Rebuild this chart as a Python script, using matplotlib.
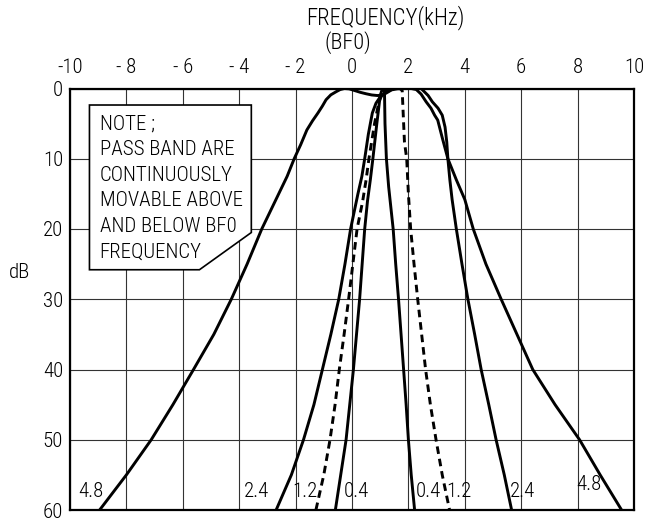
import matplotlib
matplotlib.use("Agg")
import matplotlib.pyplot as plt
from matplotlib.patches import Polygon

# ---------------- data (kHz, dB attenuation) ----------------
bw48_f = [-8.95, -8.0, -7.12, -6.35, -5.62, -4.9, -4.28, -3.72, -3.20, -2.6, -2.3, -2.05, -1.82,
          -1.60, -1.40, -1.21, -1.05, -0.92, -0.75, -0.56, -0.42, -0.27, -0.1, 0.1, 0.3, 0.5,
          0.7, 0.9, 1.05, 1.15, 1.3, 1.4, 1.6, 1.8, 2.1, 2.28, 2.45, 2.63, 2.8, 2.93, 3.04,
          3.2, 3.4, 3.7, 4.0, 4.3, 4.75, 5.29, 5.85, 6.41, 7.2, 8.07, 8.8, 9.56]
bw48_db = [60, 55, 50, 45, 40, 35, 30, 25, 20, 15, 12.5, 10, 8,
           5.9, 4.6, 3.5, 2.5, 1.6, 0.9, 0.45, 0.15, 0, 0.05, 0.3, 0.55, 0.75,
           0.92, 1.0, 0.95, 0.8, 0.45, 0.2, 0.05, 0, 0, 0.15, 0.8, 1.9, 2.8, 3.8, 4.5,
           7.0, 10, 13, 15.8, 20, 25, 30, 35, 40, 45, 50, 55, 60]

bw24_f = [-2.69, -2.15, -1.72, -1.35, -1.05, -0.75, -0.47, -0.25, -0.05, 0.21, 0.35, 0.45, 0.58,
          0.72, 0.85, 1.0, 1.2, 1.5, 2.45, 2.7, 2.85, 3.05, 3.2, 3.3, 3.36, 3.4, 3.47, 3.55,
          3.7, 3.9, 4.11, 4.35, 4.58, 4.85, 5.11, 5.4, 5.66]
bw24_db = [60, 55, 50, 45, 40, 35, 30, 25, 20, 15, 12.5, 10, 6.5,
           3.5, 2.1, 1.2, 0.5, 0, 0, 1.0, 1.9, 2.8, 3.8, 5.5, 7.6, 10, 13, 15.8,
           20, 25, 30, 35, 40, 45, 50, 55, 60]

bw12_f = [-1.28, -1.0, -0.78, -0.6, -0.45, -0.28, -0.12, 0.03, 0.18, 0.38, 0.5, 0.6, 0.7, 0.8,
          0.95, 1.1, 1.3, 1.7, 1.78, 1.82, 1.86, 1.94, 2.0, 2.08, 2.2, 2.33, 2.47, 2.61, 2.78,
          2.98, 3.2, 3.46]
bw12_db = [60, 55, 50, 45, 40, 35, 30, 25, 20, 16, 13, 10, 7.5, 5,
           2, 0.5, 0, 0, 0.3, 4, 7.6, 10, 15, 20, 25, 30, 35, 40, 45,
           50, 55, 60]

bw04_f = [-0.59, -0.4, -0.21, -0.08, 0.05, 0.16, 0.27, 0.36, 0.45, 0.55, 0.65, 0.74, 0.88, 1.0,
          1.08, 1.15, 1.17, 1.22, 1.3, 1.38, 1.46, 1.55, 1.65, 1.74, 1.83, 1.92, 2.0, 2.1, 2.22]
bw04_db = [60, 55, 50, 45, 40, 35, 30, 25, 20, 16, 13, 10, 5, 1,
           0, 0, 5, 10, 14, 17, 20, 25, 30, 35, 40, 45, 50, 55, 60]

x_ticks = [-10, -8, -6, -4, -2, 0, 2, 4, 6, 8, 10]
x_tick_labels = ["-10", "- 8", "- 6", "- 4", "- 2", "0", "2", "4", "6", "8", "10"]
y_ticks = [0, 10, 20, 30, 40, 50, 60]
y_tick_labels = ["0", "10", "20", "30", "40", "50", "60"]

curve_labels = ["4.8", "2.4", "1.2", "0.4", "0.4", "1.2", "2.4", "4.8"]
curve_label_x = [-9.27, -3.39, -1.68, 0.16, 2.71, 3.78, 6.05, 8.4]
curve_label_y = [57.4, 57.4, 57.4, 57.4, 57.4, 57.4, 57.4, 56.3]

note_lines = ["NOTE ;", "PASS BAND ARE", "CONTINUOUSLY", "MOVABLE ABOVE",
              "AND BELOW BF0", "FREQUENCY"]
box_x = [-9.31, -3.57, -3.57, -5.41, -9.31]
box_y = [2.35, 2.35, 20.5, 25.8, 25.8]

# ---------------- style ----------------
plt.rcParams["font.family"] = ["Roboto Condensed", "DejaVu Sans"]
plt.rcParams["font.weight"] = 300

fig = plt.figure(figsize=(6.52, 5.20), dpi=100)
ax = fig.add_axes([70 / 652, 1 - 510 / 520, (634 - 70) / 652, (510 - 88.5) / 520])

ax.set_xlim(-10, 10)
ax.set_ylim(60, 0)
ax.xaxis.tick_top()
ax.set_xticks(x_ticks)
ax.set_xticklabels(x_tick_labels, fontsize=15)
ax.set_yticks(y_ticks)
ax.set_yticklabels(y_tick_labels, fontsize=15)
ax.tick_params(axis="x", length=0, pad=8)
ax.tick_params(axis="y", length=0, pad=5)
ax.grid(True, color="#333333", linewidth=0.8)
for s in ax.spines.values():
    s.set_linewidth(1.6)
    s.set_zorder(5)

lw = 2.1
ax.plot(bw48_f, bw48_db, color="black", lw=lw, zorder=3, solid_joinstyle="round")
ax.plot(bw24_f, bw24_db, color="black", lw=lw, zorder=3, solid_joinstyle="round")
ax.plot(bw12_f, bw12_db, color="black", lw=lw, ls=(0, (2.6, 1.7)), zorder=3)
ax.plot(bw04_f, bw04_db, color="black", lw=lw, zorder=3, solid_joinstyle="round")

for t, x, y in zip(curve_labels, curve_label_x, curve_label_y):
    ax.text(x, y, t, fontsize=15, ha="center", va="center", zorder=4)

box = Polygon(list(zip(box_x, box_y)), closed=True, facecolor="white",
              edgecolor="black", linewidth=1.2, zorder=4)
ax.add_patch(box)
for i, line in enumerate(note_lines):
    ax.text(-8.95, 5.1 + i * 3.63, line, fontsize=15, ha="left", va="center", zorder=5)

fig.text(385 / 652, 1 - 18 / 520, "FREQUENCY(kHz)", fontsize=16.5, ha="center", va="center")
fig.text(348 / 652, 1 - 43 / 520, "(BF0)", fontsize=16, ha="center", va="center")
fig.text(20 / 652, 1 - 272 / 520, "dB", fontsize=15, ha="center", va="center")

fig.savefig("out.png", dpi=100, facecolor="white")
